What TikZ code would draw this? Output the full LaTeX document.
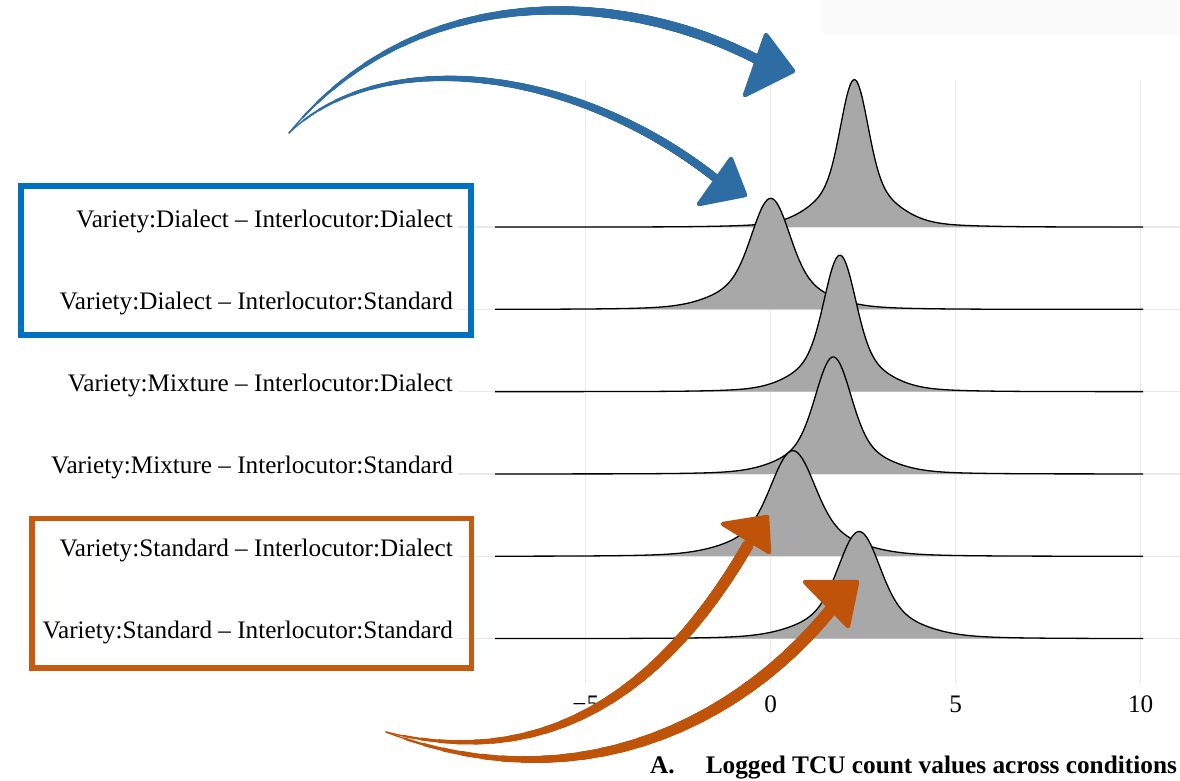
\documentclass[tikz,border=0pt]{standalone}
\usepackage{fontspec}
\setmainfont{Liberation Serif}
\definecolor{gridgray}{RGB}{233,233,233}
\definecolor{ridgegray}{RGB}{168,168,168}
\definecolor{arrowblue}{RGB}{46,109,164}
\definecolor{boxblue}{RGB}{0,112,192}
\definecolor{arroworange}{RGB}{191,83,10}
\definecolor{boxorange}{RGB}{197,90,17}
\newcommand\ridgerow[8]{%
  \fill[ridgefill] plot[domain=495:1143,samples=320] (\x,{#1-#2*(#7*gk(\x/37-20.8297-#3,#4)+#8*gk(\x/37-20.8297-#3,#5)+(1-#7-#8)*gk(\x/37-20.8297-#3,#6))}) -- (1143,#1) -- (495,#1) -- cycle;
  \draw[ridgeline] plot[domain=495:1143,samples=320] (\x,{#1-#2*(#7*gk(\x/37-20.8297-#3,#4)+#8*gk(\x/37-20.8297-#3,#5)+(1-#7-#8)*gk(\x/37-20.8297-#3,#6))});
}
% #1 colour, #2 end width, #3 path length, #4 path
\newcommand\taperline[4]{%
  \foreach \k in {0,...,23}{%
    \pgfmathsetmacro\tq{\k/23}%
    \pgfmathsetmacro\ww{1.4+(#2-1.4)*\tq*(2-\tq)}%
    \pgfmathsetmacro\ph{6000-#3*0.92*\tq}%
    \draw[#1, line width=\ww pt, line cap=round, dash pattern=on 3000pt off 3000pt, dash phase=\ph pt] #4;
  }%
}
\begin{document}
\begin{tikzpicture}[x=1pt,y=-1pt,
  grid/.style={draw=gridgray, line width=1.4pt},
  ridgefill/.style={fill=ridgegray},
  ridgeline/.style={draw=black, line width=1.3pt, line join=round},
  lbl/.style={font=\fontsize{25.2}{30}\selectfont, inner sep=0pt, anchor=base east},
  tick/.style={font=\fontsize{25.2}{30}\selectfont, inner sep=0pt, anchor=base},
  ttl/.style={font=\bfseries\fontsize{25.3}{30}\selectfont, inner sep=0pt, anchor=base west},
  headblue/.style={fill=arrowblue, draw=arrowblue, line width=4.5pt, line join=round},
  headorange/.style={fill=arroworange, draw=arroworange, line width=4.5pt, line join=round},
  declare function={gk(\d,\s)=exp(-min(\d*\d/(2*\s*\s),30));},
]
\useasboundingbox (0,0) rectangle (1180,780);
% faint panel at top right
\fill[black!1.5] (821,0) rectangle (1180,35);
% grid
\foreach \gx in {585.7,770.7,955.7,1140.7}{\draw[grid] (\gx,80) -- (\gx,683);}
\foreach \gy in {227,309.3,391.6,473.9,556.2,638.5}{\draw[grid] (458,\gy) -- (1180,\gy);}
% ridges
\ridgerow{227}{147.5}{2.26}{0.35}{0.9}{2.0}{0.68}{0.29}
\ridgerow{309.3}{111}{0.0}{0.48}{1.1}{2.3}{0.68}{0.29}
\ridgerow{391.6}{136.5}{1.87}{0.40}{0.95}{2.0}{0.70}{0.27}
\ridgerow{473.9}{117}{1.69}{0.45}{1.05}{2.1}{0.70}{0.27}
\ridgerow{556.2}{105.5}{0.60}{0.55}{1.25}{2.5}{0.68}{0.29}
\ridgerow{638.5}{107}{2.39}{0.52}{1.2}{2.4}{0.68}{0.29}
% labels
\node[lbl] (lab1) at (453,227) {Variety:Dialect – Interlocutor:Dialect};
\node[lbl] (lab2) at (453,309.3) {Variety:Dialect – Interlocutor:Standard};
\node[lbl] (lab3) at (453,391.6) {Variety:Mixture – Interlocutor:Dialect};
\node[lbl] (lab4) at (453,473.9) {Variety:Mixture – Interlocutor:Standard};
\node[lbl] (lab5) at (453,556.2) {Variety:Standard – Interlocutor:Dialect};
\node[lbl] (lab6) at (453,638.5) {Variety:Standard – Interlocutor:Standard};
% ticks
\node[tick] (tm5) at (585.7,712) {−5};
\node[tick] (t0) at (770.7,712) {0};
\node[tick] (t5) at (955.7,712) {5};
\node[tick] (t10) at (1140.7,712) {10};
% title
\node[ttl] (title) at (650,773) {A.\hspace{31pt}Logged TCU count values across conditions};
% boxes
\draw[boxblue, line width=5.8pt] (21.2,186.2) rectangle (471.2,335);
\draw[boxorange, line width=5.8pt] (32.2,518.5) rectangle (471.5,667.8);
% arrow coordinates
\coordinate (bstart) at (289,133);
\coordinate (b1end) at (758,60);
\coordinate (b2end) at (719,181);
\coordinate (ostart) at (386,732);
\coordinate (oAend) at (748,545);
\coordinate (oBend) at (833,607);
% blue arrows
\taperline{arrowblue}{9.5}{515}{(bstart) .. controls (420,-25) and (630,-8) .. (b1end)}
\taperline{arrowblue}{8}{470}{(bstart) .. controls (380,45) and (575,65) .. (b2end)}
\filldraw[headblue] (766,35) -- (793,71) -- (745,95) -- cycle;
\filldraw[headblue] (731,159) -- (745,195) -- (699,204) -- cycle;
% orange arrows
\taperline{arroworange}{11}{447}{(ostart) .. controls (566,777) and (678,666) .. (oAend)}
\taperline{arroworange}{12}{497}{(ostart) .. controls (578,805) and (741,722) .. (oBend)}
\filldraw[headorange] (723,524) -- (767,517) -- (769,552) -- cycle;
\filldraw[headorange] (805,582) -- (857,582) -- (848,626) -- cycle;
\end{tikzpicture}
\end{document}
